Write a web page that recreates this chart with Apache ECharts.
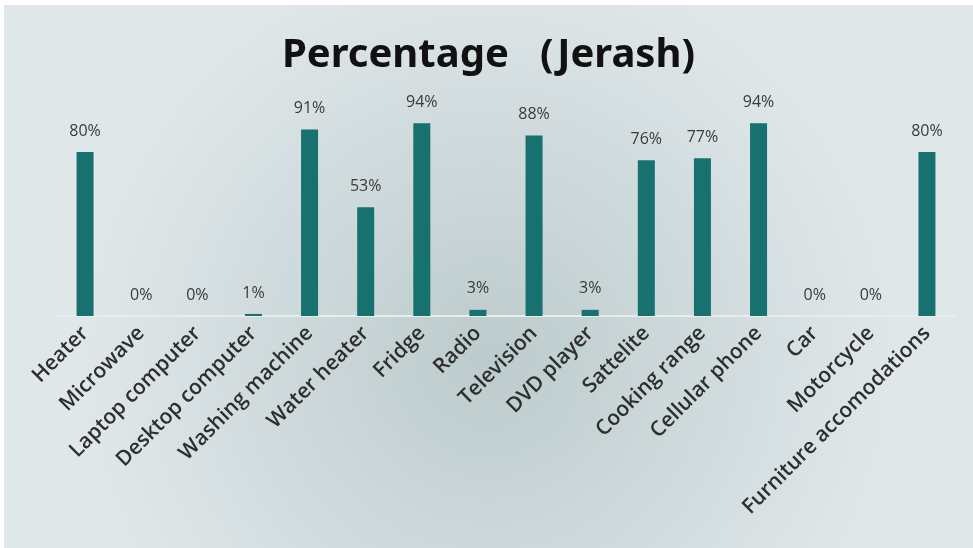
<!DOCTYPE html>
<html>
<head>
<meta charset="utf-8">
<script src="https://cdn.jsdelivr.net/npm/echarts@6/dist/echarts.min.js"></script>
<style>
  html, body { margin: 0; padding: 0; background: #ffffff; }
  #chart { position: absolute; left: 4px; top: 5px; width: 969px; height: 543px; }
</style>
</head>
<body>
<div id="chart"></div>
<script>
// Household appliance ownership in Jerash, percent of households
const categories = [
  'Heater', 'Microwave', 'Laptop computer', 'Desktop computer',
  'Washing machine', 'Water heater', 'Fridge', 'Radio', 'Television',
  'DVD player', 'Sattelite', 'Cooking range', 'Cellular phone', 'Car',
  'Motorcycle', 'Furniture accomodations'
];
const percentages = [80, 0, 0, 1, 91, 53, 94, 3, 88, 3, 76, 77, 94, 0, 0, 80];
const chartTitle = 'Percentage   (Jerash)';

const chart = echarts.init(document.getElementById('chart'));
chart.setOption({
  backgroundColor: {
    type: 'radial', x: 0.5, y: 0.65, r: 0.75,
    colorStops: [
      { offset: 0, color: '#bccbcd' },
      { offset: 1, color: '#e0e7e9' }
    ]
  },
  title: {
    text: chartTitle,
    left: 'center',
    top: 26,
    textStyle: {
      fontFamily: 'Noto Sans',
      fontWeight: 'bold',
      fontSize: 40,
      color: '#111111'
    }
  },
  grid: { left: 53, right: 18, top: 106, bottom: 232 },
  xAxis: {
    type: 'category',
    data: categories,
    axisLine: { show: true, lineStyle: { color: '#e6edef', width: 2 } },
    axisTick: { show: false },
    axisLabel: {
      rotate: 45,
      interval: 0,
      margin: 14,
      fontFamily: 'Open Sans',
      fontSize: 21,
      fontWeight: 600,
      color: '#2e2e2e'
    }
  },
  yAxis: {
    type: 'value',
    min: 0,
    max: 100,
    show: false,
    splitLine: { show: false }
  },
  series: [{
    type: 'bar',
    data: percentages,
    barWidth: 17,
    itemStyle: { color: '#17716f' },
    label: {
      show: true,
      position: 'top',
      distance: 13,
      formatter: '{c}%',
      fontFamily: 'Open Sans',
      fontSize: 16,
      color: '#3a3a3a'
    }
  }]
});
</script>
</body>
</html>
